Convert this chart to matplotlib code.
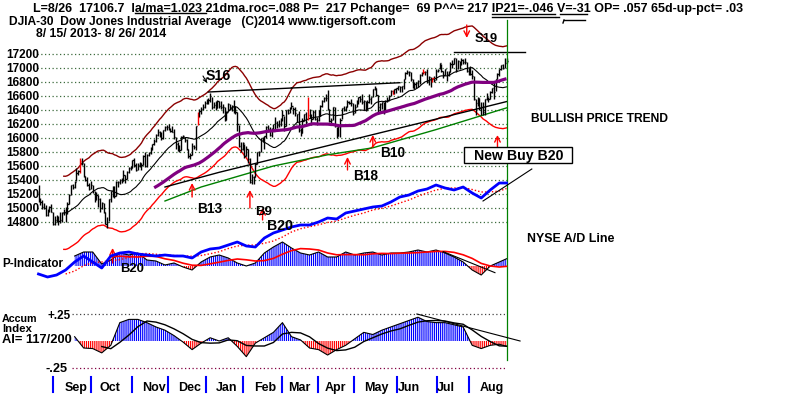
import matplotlib
matplotlib.use("Agg")
import matplotlib.pyplot as plt
import matplotlib.transforms as mtrans
from matplotlib.patches import Rectangle
import numpy as np
import pandas as pd

plt.rcParams['hatch.linewidth'] = 0.85

# ---------------- data ----------------
close = [
15112,15081,15010,15002,14897,14963,15010,14946,14776,14824,14840,14810,
14834,14931,14938,14922,15063,15191,15327,15300,15376,15494,15530,15676,15636,15452,15401,15334,15273,15329,15258,15130,
15192,15134,14997,15073,14936,14776,14803,15127,15238,15301,15168,15374,15372,15400,15392,15468,15413,15509,15570,15569,15681,15619,15546,
15616,15639,15618,15747,15594,15762,15784,15840,15910,15960,16050,16080,16060,16000,16110,16160,16160,16130,16098,16086,
16008,15915,15889,15822,16020,16025,15974,15844,15740,15755,15885,15875,16168,16300,16380,16420,16450,16500,16520,16540,16600,
16441,16469,16425,16530,16462,16444,16437,16257,16374,16482,16418,16459,16414,16373,16197,15879,15838,15929,15739,15849,15699,
15373,15445,15441,15629,15794,15802,15994,15964,16027,16154,16130,16041,16133,16104,16208,16179,16198,16273,16322,
16168,16396,16361,16422,16453,16419,16351,16341,16109,16066,16247,16337,16223,16332,16303,16276,16368,16268,16264,16323,16458,
16533,16573,16573,16413,16246,16256,16438,16171,16027,16174,16263,16425,16409,16449,16514,16502,16501,16361,16449,16535,16581,
16558,16513,16531,16402,16518,16551,16583,16695,16715,16614,16447,16492,16512,16374,16533,16543,16607,16676,16633,16698,16717,
16743,16723,16738,16836,16924,16943,16945,16843,16735,16776,16781,16809,16907,16922,16948,16938,16819,16868,16846,16852,16827,
16957,16977,17068,16956,16906,16985,16915,16944,17055,17061,17138,16977,17100,17052,17114,17087,17084,16961,16983,16913,16881,16563,
16493,16570,16430,16443,16368,16554,16570,16561,16652,16713,16663,16838,16919,16979,17039,17001,17077,17106,
]
high = [
15330,15150,15110,15070,15050,14990,15030,15060,14940,14880,14900,14880,
14950,14950,14980,15010,15080,15200,15330,15340,15390,15570,15550,15710,15710,15640,15460,15440,15360,15380,15330,15250,
15230,15190,15140,15090,15070,14940,14870,15130,15250,15310,15310,15380,15380,15420,15430,15540,15470,15530,15580,15600,15690,15720,15640,
15650,15660,15640,15760,15800,15770,15800,15870,15920,15980,16060,16130,16100,16090,16120,16170,16190,16200,16150,16170,
16130,16010,15940,15900,16030,16050,16020,15980,15850,15790,15930,15900,16170,16370,16420,16450,16480,16530,16560,16570,16640,
16580,16520,16530,16550,16530,16530,16490,16450,16380,16500,16480,16470,16540,16460,16370,16190,15940,15940,15920,15890,15840,
15710,15480,15460,15640,15800,15820,16000,16010,16030,16170,16180,16160,16150,16200,16300,16240,16260,16280,16400,
16320,16400,16410,16450,16510,16450,16450,16350,16380,16150,16280,16340,16370,16590,16420,16340,16400,16400,16300,16400,16470,
16540,16590,16630,16690,16410,16280,16440,16440,16160,16200,16280,16430,16460,16460,16540,16530,16560,16500,16480,16540,16590,
16600,16630,16540,16530,16540,16630,16590,16700,16740,16720,16620,16500,16520,16510,16540,16580,16610,16680,16690,16700,16720,
16750,16740,16750,16850,16940,16970,16960,16940,16840,16800,16800,16830,16910,16950,16980,16960,16980,16880,16870,16860,16880,
16990,16990,17070,17060,16960,16990,16960,16960,17080,17120,17150,17150,17110,17100,17140,17130,17150,17080,17000,17030,16970,16880,
16560,16590,16570,16520,16510,16560,16640,16590,16670,16720,16800,16850,16930,16990,17040,17060,17150,17150,
]
low = [
15080,15050,14990,14990,14880,14890,14940,14940,14760,14760,14800,14760,
14780,14800,14900,14800,14920,15060,15180,15270,15290,15380,15470,15500,15620,15440,15380,15320,15260,15270,15210,15080,
15110,15020,14950,14980,14930,14770,14720,14810,15080,15160,15150,15170,15300,15350,15360,15390,15360,15410,15500,15540,15570,15590,15530,
15540,15590,15550,15620,15590,15580,15740,15770,15830,15900,15950,16030,16020,15970,15990,16100,16120,16110,16080,16080,
15990,15850,15810,15800,15830,16000,15950,15830,15720,15700,15760,15840,15830,16190,16300,16350,16400,16430,16480,16490,16520,
16410,16430,16400,16430,16430,16410,16360,16240,16260,16380,16400,16380,16360,16350,16100,15870,15800,15830,15720,15740,15650,
15360,15340,15340,15440,15630,15740,15800,15940,15850,16000,16080,16030,16010,16100,16100,16150,16160,16170,16250,
16100,16170,16340,16360,16420,16350,16320,16230,16080,16030,16070,16240,16170,16260,16290,16180,16270,16260,16180,16250,16320,
16450,16520,16530,16400,16230,16190,16260,16160,16000,16030,16020,16270,16380,16390,16440,16490,16460,16330,16360,16450,16480,
16520,16490,16400,16390,16400,16500,16490,16580,16690,16600,16370,16380,16410,16340,16370,16520,16540,16600,16630,16630,16650,
16680,16660,16660,16700,16840,16910,16890,16820,16710,16700,16710,16730,16770,16880,16920,16900,16790,16760,16730,16800,16800,
16830,16940,16980,16940,16860,16900,16820,16880,16950,17000,17060,16950,16980,16990,17050,17060,17060,16940,16900,16900,16840,16550,
16330,16460,16400,16330,16330,16330,16550,16510,16560,16640,16560,16670,16840,16880,16970,16980,17000,17070,
]
red_bar_days = [23, 88, 149, 196, 213, 218]

price_ticks = [17200, 17000, 16800, 16600, 16400, 16200, 16000, 15800, 15600, 15400, 15200, 15000, 14800]
months = ["Sep", "Oct", "Nov", "Dec", "Jan", "Feb", "Mar", "Apr", "May", "Jun", "Jul", "Aug"]

ma200_days = [70, 100, 130, 160, 190, 220, 259]
ma200_vals = [15300, 15510, 15700, 15890, 16080, 16270, 16520]
green_days = [70, 90, 130, 160, 185, 220, 259]
green_vals = [15100, 15300, 15600, 15760, 15860, 16120, 16430]

res_days = [[94, 140], [140, 200], [230, 269]]
res_vals = [[16657, 16714], [16714, 16790], [17235, 17235]]

ad_days = list(range(0, 256, 5)) + [259]
ad_line = [1500, 750, 1250, 2500, 4500, 6000, 4500, 3000, 6000, 6750, 7000, 6500, 6250,
           6000, 6250, 6000, 6000, 5500, 7000, 7750, 8000, 8750, 9500, 8500, 8250, 10500,
           11750, 12500, 13250, 13750, 13750, 14500, 15500, 15250, 16750, 17250, 17750,
           18250, 18500, 19500, 20750, 21250, 22250, 22750, 23750, 23000, 22500, 23250,
           21750, 20500, 22500, 24250, 24250]
ad_trend_days = [246, 273]
ad_trend_vals = [19750, 27750]

ind_days = list(range(20, 256, 5)) + [259]
p_indicator = [300, 420, 420, 60, 180, 390, 330, 390, 180, 150, 30, 90, -30, -120, 120, 270,
               330, 240, 90, 0, 90, 390, 570, 720, 540, 390, 330, 420, 270, 270, 420, 330,
               390, 420, 330, 390, 390, 420, 480, 420, 480, 390, 270, 120, -120, -270, 0, 120, 217]
p_trend_days = [224, 252.6]
p_trend_vals = [430, -200]

accum = [0.04, -0.065, -0.07, -0.11, -0.04, 0.17, 0.20, 0.20, 0.17, 0.13, 0.10, 0.05, -0.01,
         -0.08, -0.02, 0.03, 0.0, 0.03, -0.05, -0.145, -0.02, 0.03, 0.08, 0.17, 0.04, 0.01,
         -0.065, -0.08, -0.13, -0.08, -0.04, 0.02, 0.08, 0.06, 0.10, 0.13, 0.16, 0.19, 0.22,
         0.18, 0.17, 0.17, 0.15, 0.13, -0.04, -0.07, -0.04, -0.03, -0.05]
ai_trend_days = [209.4, 266.5]
ai_trend_vals = [0.25, 0.0]

buy_names = ["B13", "B9", "B20", "B18", "B10", ""]
buy_days = [85, 117, 124, 171, 185, 254]
buy_tip = [15357, 15257, 15000, 15729, 16043, 16043]
buy_tail = [15157, 15000, 14829, 15543, 15871, 15871]
sell_day, sell_tail, sell_tip = 237, 17614, 17429
pbuy_day, pbuy_tail, pbuy_tip = 41, 90, 540

assert len(close) == len(high) == len(low) == 260
assert len(ad_line) == len(ad_days) and len(p_indicator) == len(ind_days) == len(accum)

# ---------------- layout ----------------
W, H = 800, 397
X0, DX = 38.5, 1.807          # pixel of first day, pixels per day
P_REF, Y_REF, PPX = 17200, 54, 0.07

fig = plt.figure(figsize=(8, 3.97), dpi=100)
fig.patch.set_facecolor("white")
XL = (-X0 / DX, (W - X0) / DX)


def make_axes(y0, k, z):
    a = fig.add_axes([0, 0, 1, 1], zorder=z)
    a.set_xlim(*XL)
    a.set_ylim((y0 - H) / k, y0 / k)
    a.axis("off")
    a.patch.set_alpha(0)
    return a


ax = fig.add_axes([0, 0, 1, 1], zorder=2)
ax.set_xlim(*XL)
ax.set_ylim(P_REF - (H - Y_REF) / PPX, P_REF + Y_REF / PPX)
ax.axis("off")
ax.patch.set_alpha(0)
ax_p = make_axes(266, 1 / 30, 3)
ax_ad = make_axes(280, 1 / 250, 4)
ax_ai = make_axes(341, 108, 3)
tax = fig.add_axes([0, 0, 1, 1], zorder=10)
tax.set_xlim(0, W)
tax.set_ylim(H, 0)
tax.axis("off")
tax.patch.set_alpha(0)
bl = mtrans.blended_transform_factory(ax.transData, tax.transData)

renderer = fig.canvas.get_renderer()


def txt(x, y, s, size=10, width=None, ha="left", va="baseline", color="black",
        family="Liberation Sans", weight="bold", transform=None, **kw):
    t = tax.text(x, y, s, fontsize=size, ha=ha, va=va, color=color, fontfamily=family,
                 fontweight=weight, transform=transform or tax.transData, **kw)
    if width:
        w = t.get_window_extent(renderer).width
        t.set_fontsize(size * width / w)
    return t


days = np.arange(len(close))
c = np.array(close, float)
hi = np.array(high, float)
lo = np.array(low, float)

# grid
grid_col = "#3d6b3d"
for p in price_ticks:
    ax.plot([-1, 259.5], [p, p], color=grid_col, lw=0.9, ls=(0, (1, 2)), zorder=1)
    txt(6, Y_REF + (P_REF - p) * PPX + 3.6, f"{p}", size=8.6, width=33)

# bands & moving averages
ma21 = pd.Series(c).rolling(21, min_periods=15).mean()
ma65 = pd.Series(c).rolling(65).mean()
ax.plot(days, ma21 * 1.035, color="#8b0000", lw=1.0, zorder=2)
ax.plot(days, ma21 * 0.965, color="#ff0000", lw=1.0, zorder=2)
ax.plot(days, ma21, color="black", lw=0.8, zorder=2)
ax.plot(ma200_days, ma200_vals, color="black", lw=1.0, zorder=2)
ax.plot(green_days, green_vals, color="#008000", lw=1.0, zorder=2)
for d, v in zip(res_days, res_vals):
    ax.plot(d, v, color="black", lw=1.0, zorder=2)

# price bars
cols = ["red" if i in red_bar_days else "black" for i in days]
ax.vlines(days, lo, hi, colors=cols, lw=1.0, zorder=3)
ax.hlines(c, days, days + 0.7, colors=cols, lw=1.0, zorder=3)
ax.plot(days, ma65, color="#800080", lw=2.3, zorder=4, solid_capstyle="butt")

# signals
for n, d, tp, tl in zip(buy_names, buy_days, buy_tip, buy_tail):
    ax.annotate("", xy=(d, tp), xytext=(d, tl),
                arrowprops=dict(arrowstyle="->", color="red", lw=1.0, shrinkA=0, shrinkB=0,
                                mutation_scale=10), zorder=5)
ax.annotate("", xy=(sell_day, sell_tip), xytext=(sell_day, sell_tail),
            arrowprops=dict(arrowstyle="->", color="red", lw=1.0, shrinkA=0, shrinkB=0,
                            mutation_scale=10), zorder=5)
ax_p.annotate("", xy=(pbuy_day, pbuy_tip), xytext=(pbuy_day, pbuy_tail),
              arrowprops=dict(arrowstyle="->", color="red", lw=1.0, shrinkA=0, shrinkB=0,
                              mutation_scale=10), zorder=5)

# A/D line
ad = np.array(ad_line, float)
ax_ad.plot(ad_days, pd.Series(ad).rolling(4).mean(), color="red", lw=1.0, ls=(0, (1, 1.5)))
ax_ad.plot(ad_days, ad, color="#0000ff", lw=2.0)
ax_ad.plot(ad_trend_days, ad_trend_vals, color="black", lw=0.8)

# P-indicator
pv = np.array(p_indicator, float)
ax_p.fill_between(ind_days, 0, pv, where=pv >= 0, interpolate=True, facecolor="none",
                  edgecolor="#0000ff", hatch="|" * 8, linewidth=0)
ax_p.fill_between(ind_days, 0, pv, where=pv <= 0, interpolate=True, facecolor="none",
                  edgecolor="#ff0000", hatch="|" * 8, linewidth=0)
ax_p.plot(ind_days, pv, color="black", lw=0.8)
ax_p.plot(ind_days, pd.Series(pv).rolling(5).mean(), color="red", lw=1.2)
ax_p.plot(p_trend_days, p_trend_vals, color="black", lw=0.8)

# Accumulation index
av = np.array(accum, float)
ax_ai.plot([18.5, 259.5], [0.25, 0.25], color="#444444", lw=0.9, ls=(0, (1, 2)))
ax_ai.plot([18.5, 259.5], [-0.25, -0.25], color="#800040", lw=0.9, ls=(0, (1, 2)))
ax_ai.fill_between(ind_days, 0, av, where=av >= 0, interpolate=True, facecolor="none",
                   edgecolor="#0000ff", hatch="|" * 8, linewidth=0)
ax_ai.fill_between(ind_days, 0, av, where=av <= 0, interpolate=True, facecolor="none",
                   edgecolor="#ff0000", hatch="|" * 8, linewidth=0)
ax_ai.plot(ind_days, av, color="black", lw=0.8)
ax_ai.plot(ind_days, pd.Series(av).rolling(4).mean(), color="black", lw=1.0)
ax_ai.plot(ai_trend_days, ai_trend_vals, color="black", lw=0.8)

# last-day marker and month ticks
ax.plot([259.5, 259.5], [20, 360], color="#008000", lw=0.9, transform=bl, zorder=6)
month_tick_days = [8.2, 28.9, 51.6, 71.5, 92.5, 113.3, 134.6, 154.8, 174.6, 198.2, 220.4, 238.2]
month_label_px = [65, 100, 142, 178, 216, 254, 288, 325, 364, 398, 437, 480]
for d, m, lx in zip(month_tick_days, months, month_label_px):
    ax.plot([d, d], [377, 392], color="#0000ff", lw=1.5, transform=bl)
    txt(lx, 391, m, size=9)

# ---------------- texts ----------------
txt(33, 11.7, "L=8/26  17106.7  la/ma=1.023 21dma.roc=.088 P=  217 Pchange=  69 P^^= 217 "
    "IP21=-.046 V=-31 OP= .057 65d-up-pct= .03", size=9, width=710)
txt(9, 25, "DJIA-30  Dow Jones Industrial Average   (C)2014 www.tigersoft.com", size=9, width=386)
txt(36, 37.3, "8/ 15/ 2013- 8/ 26/ 2014", size=8.8)
for (x1, x2, y) in [(135, 206, 13), (492, 555, 13.5), (492, 555, 16.8), (556, 559, 16.8),
                    (560, 587, 13.5), (564, 585, 20)]:
    tax.plot([x1, x2], [y, y], color="black", lw=1.0)
tax.plot([564, 563], [20, 23], color="black", lw=1.0)

txt(206, 80, "S16", size=10.5, width=25)
tax.annotate("", xy=(207, 83), xytext=(203, 76),
             arrowprops=dict(arrowstyle="->", color="black", lw=0.8, shrinkA=0, shrinkB=0,
                             mutation_scale=6))
txt(475, 42, "S19", size=10.5, width=23)
for name, x, y, w in [("B13", 197, 213, 25), ("B9", 255, 215, 17), ("B20", 267, 230, 26),
                      ("B18", 353, 179.5, 25), ("B10", 380, 157, 25), ("B20", 120, 272, 24)]:
    txt(x, y, name, size=10.5, width=w)

txt(531, 122, "BULLISH PRICE TREND", size=9, width=138)
tax.add_patch(Rectangle((464, 147), 108, 16, facecolor="white", edgecolor="black", lw=1.0,
                        zorder=11))
txt(473.5, 160, "New Buy B20", size=10, width=89, zorder=12)
txt(527, 242.5, "NYSE A/D Line", size=9, width=87)
txt(2, 267, "P-Indicator", size=9, width=61)
txt(2, 321.5, "Accum", size=9, width=36)
txt(2, 332, "Index", size=9, width=30)
txt(2, 343, "AI= 117/200", size=9, width=70)
txt(47, 319, "+.25", size=9, width=23)
txt(45, 372, "-.25", size=9, width=22)

fig.savefig("out.png", dpi=100, facecolor="white")
